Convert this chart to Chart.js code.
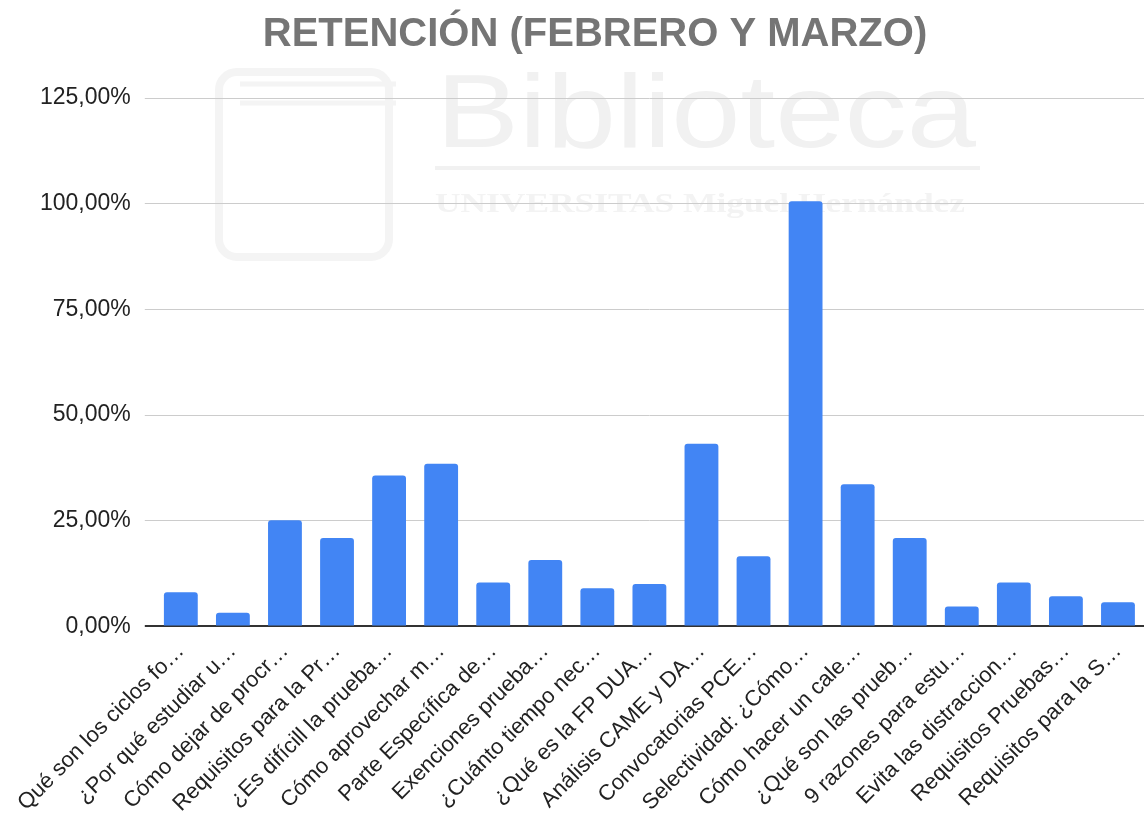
<!DOCTYPE html>
<html>
<head>
<meta charset="utf-8">
<script src="https://cdn.jsdelivr.net/npm/chart.js@4"></script>
<style>
  html, body { margin: 0; padding: 0; background: #fff; }
  #wrap { width: 1148px; height: 823px; }
</style>
</head>
<body>
<div id="wrap"><canvas id="retencionChart" width="1148" height="823"></canvas></div>
<script>
// Etiquetas tal como aparecen (recortadas) en el gráfico
const labels = [
    "Qué son los ciclos fo…",
    "¿Por qué estudiar u…",
    "Cómo dejar de procr…",
    "Requisitos para la Pr…",
    "¿Es difícill la prueba…",
    "Cómo aprovechar m…",
    "Parte Específica de…",
    "Exenciones prueba…",
    "¿Cuánto tiempo nec…",
    "¿Qué es la FP DUA…",
    "Análisis CAME y DA…",
    "Convocatorias PCE…",
    "Selectividad: ¿Cómo…",
    "Cómo hacer un cale…",
    "¿Qué son las prueb…",
    "9 razones para estu…",
    "Evita las distraccion…",
    "Requisitos Pruebas…",
    "Requisitos para la S…"
];

// Retención en %
const retencion = [8.1, 3.2, 25.1, 20.9, 35.7, 38.5, 10.4, 15.7, 9.0, 10.0,
                   43.2, 16.6, 100.6, 33.6, 20.9, 4.7, 10.4, 7.1, 5.7];

const yTicks = [0, 25, 50, 75, 100, 125];

function formatPct(v) {
    return v.toFixed(2).replace(".", ",") + "%";
}

// Marca de agua de fondo (Biblioteca UMH), muy tenue
const watermark = {
    id: "watermark",
    afterLayout(chart) {
        // el título del original está algo desplazado a la derecha
        if (chart.titleBlock) chart.titleBlock.left += 20;
    },
    beforeDraw(chart) {
        const c = chart.ctx;
        c.save();
        c.fillStyle = "#fff";
        c.fillRect(0, 0, chart.width, chart.height);
        c.strokeStyle = "#f4f4f4";
        c.lineWidth = 8;
        c.beginPath();
        c.roundRect(219, 72, 170, 185, 18);
        c.stroke();
        c.lineWidth = 5;
        c.beginPath();
        c.moveTo(240, 84); c.lineTo(396, 84);
        c.moveTo(240, 103); c.lineTo(396, 103);
        c.stroke();
        c.fillStyle = "#f1f1f1";
        c.font = "104px 'Liberation Sans', Arial, sans-serif";
        c.textBaseline = "alphabetic";
        const w = c.measureText("Biblioteca").width;
        c.save();
        c.translate(436, 147);
        c.scale(540 / w, 1);
        c.fillText("Biblioteca", 0, 0);
        c.restore();
        c.fillRect(435, 166, 545, 4);
        c.fillStyle = "#f3f3f3";
        c.font = "bold 27px 'Liberation Serif', serif";
        const w2 = c.measureText("UNIVERSITAS Miguel Hernández").width;
        c.save();
        c.translate(435, 212);
        c.scale(530 / w2, 1);
        c.fillText("UNIVERSITAS Miguel Hernández", 0, 0);
        c.restore();
        c.restore();
    }
};

const ctx = document.getElementById("retencionChart").getContext("2d");

new Chart(ctx, {
    type: "bar",
    data: {
        labels: labels,
        datasets: [{
            label: "Retención",
            data: retencion,
            backgroundColor: "#4285f4",
            borderRadius: 3,
            borderSkipped: "start",
            barPercentage: 0.65,
            categoryPercentage: 1.0
        }]
    },
    options: {
        responsive: false,
        animation: false,
        layout: { padding: { left: 26, right: 4, top: 6, bottom: 2 } },
        plugins: {
            legend: { display: false },
            tooltip: { enabled: false },
            title: {
                display: true,
                text: "RETENCIÓN (FEBRERO Y MARZO)",
                color: "#757575",
                font: { family: "'Liberation Sans', Arial, sans-serif", size: 40, weight: "bold" },
                padding: { top: 5, bottom: 39 }
            }
        },
        scales: {
            x: {
                grid: { display: false },
                border: { display: false },
                ticks: {
                    color: "#222",
                    font: { family: "'Liberation Sans', Arial, sans-serif", size: 22 },
                    minRotation: 45,
                    maxRotation: 45,
                    autoSkip: false,
                    padding: 4
                }
            },
            y: {
                min: 0,
                max: 125,
                afterBuildTicks(axis) {
                    axis.ticks = yTicks.map(v => ({ value: v }));
                },
                border: { display: false },
                grid: {
                    color: c => c.tick && c.tick.value === 0 ? "#333" : "#cccccc",
                    lineWidth: c => c.tick && c.tick.value === 0 ? 2 : 1,
                    tickLength: 10,
                    drawTicks: true
                },
                ticks: {
                    color: "#222",
                    font: { family: "'Liberation Sans', Arial, sans-serif", size: 23 },
                    padding: 14,
                    callback: v => formatPct(v)
                }
            }
        }
    },
    plugins: [watermark]
});
</script>
</body>
</html>
